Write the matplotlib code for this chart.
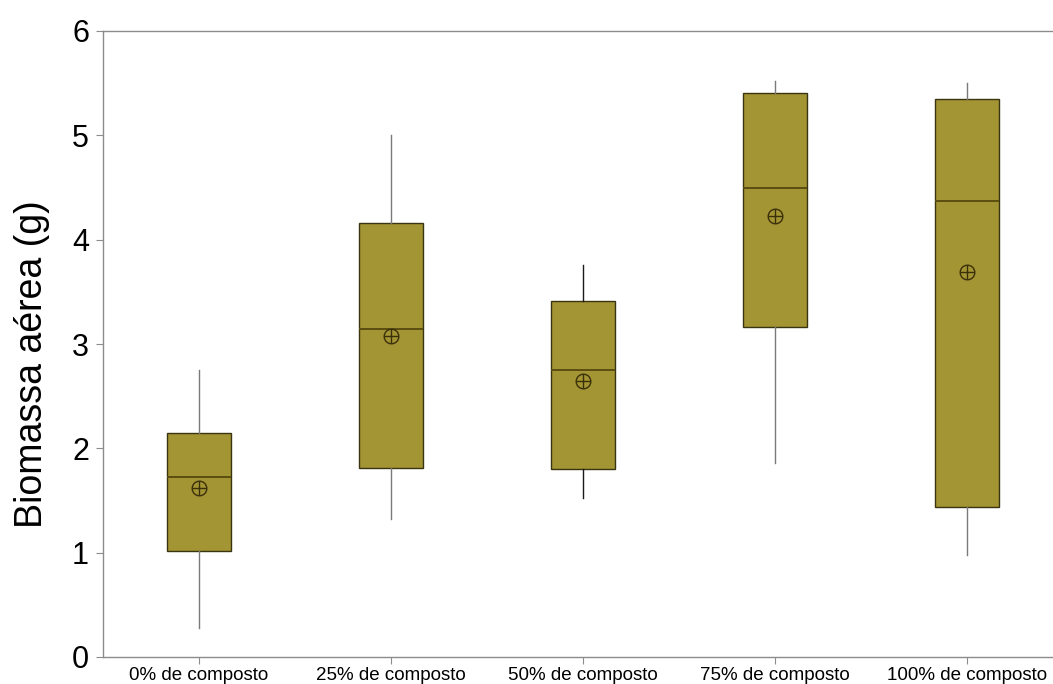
import matplotlib
matplotlib.use("Agg")
import matplotlib.pyplot as plt

plt.rcParams['font.family'] = ['Liberation Sans', 'DejaVu Sans']

categories = ["0% de composto", "25% de composto", "50% de composto",
              "75% de composto", "100% de composto"]
whisker_low = [0.28, 1.32, 1.52, 1.86, 0.98]
q1 = [1.015, 1.81, 1.80, 3.16, 1.44]
median = [1.73, 3.14, 2.75, 4.50, 4.37]
q3 = [2.15, 4.16, 3.41, 5.41, 5.35]
whisker_high = [2.75, 5.00, 3.76, 5.52, 5.50]
mean = [1.62, 3.08, 2.65, 4.23, 3.69]

box_color = "#A39533"
edge_color = "#3a3410"
median_color = "#5c4e12"
axis_gray = "#8c8c8c"

fig = plt.figure(figsize=(10.53, 6.84), dpi=100)
ax = fig.add_axes([103 / 1053, 27 / 684, 960 / 1053, 626 / 684])

stats = []
for i, name in enumerate(categories):
    stats.append(dict(label=name, whislo=whisker_low[i], q1=q1[i],
                      med=median[i], q3=q3[i], whishi=whisker_high[i],
                      mean=mean[i], fliers=[]))

positions = list(range(1, len(categories) + 1))
bp = ax.bxp(stats, positions=positions, widths=1 / 3, showcaps=False,
            showfliers=False, showmeans=False, patch_artist=True,
            boxprops=dict(facecolor=box_color, edgecolor=edge_color, linewidth=1.0),
            medianprops=dict(color=median_color, linewidth=1.4),
            whiskerprops=dict(color="#7a7a7a", linewidth=1.0))

# the 50% group has darker whiskers
for w in bp['whiskers'][4:6]:
    w.set_color("#1a1a1a")

# mean marker: circle with a cross
ax.plot(positions, mean, linestyle="none", marker="o", markersize=10.5,
        markerfacecolor="none", markeredgecolor="#3a300a", markeredgewidth=1.0,
        zorder=5)
ax.plot(positions, mean, linestyle="none", marker="+", markersize=10.5,
        markeredgecolor="#3a300a", markeredgewidth=1.0, zorder=5)

ax.set_xlim(0.5, 5.5)
ax.set_ylim(0, 6)
ax.set_yticks(range(0, 7))
ax.set_xticks(positions)
ax.set_xticklabels(categories, fontsize=13.5)
ax.tick_params(axis='y', labelsize=22, length=5, width=0.8, color=axis_gray, pad=5)
ax.tick_params(axis='x', length=5, width=0.8, color=axis_gray, pad=2)

for side in ("left", "bottom", "top"):
    ax.spines[side].set_color(axis_gray)
    ax.spines[side].set_linewidth(1.0)
ax.spines["right"].set_visible(False)

ax.set_ylabel("Biomassa aérea (g)", fontsize=27)
ax.yaxis.set_label_coords(-0.055, 0.468)

fig.savefig("out.png", dpi=100)
